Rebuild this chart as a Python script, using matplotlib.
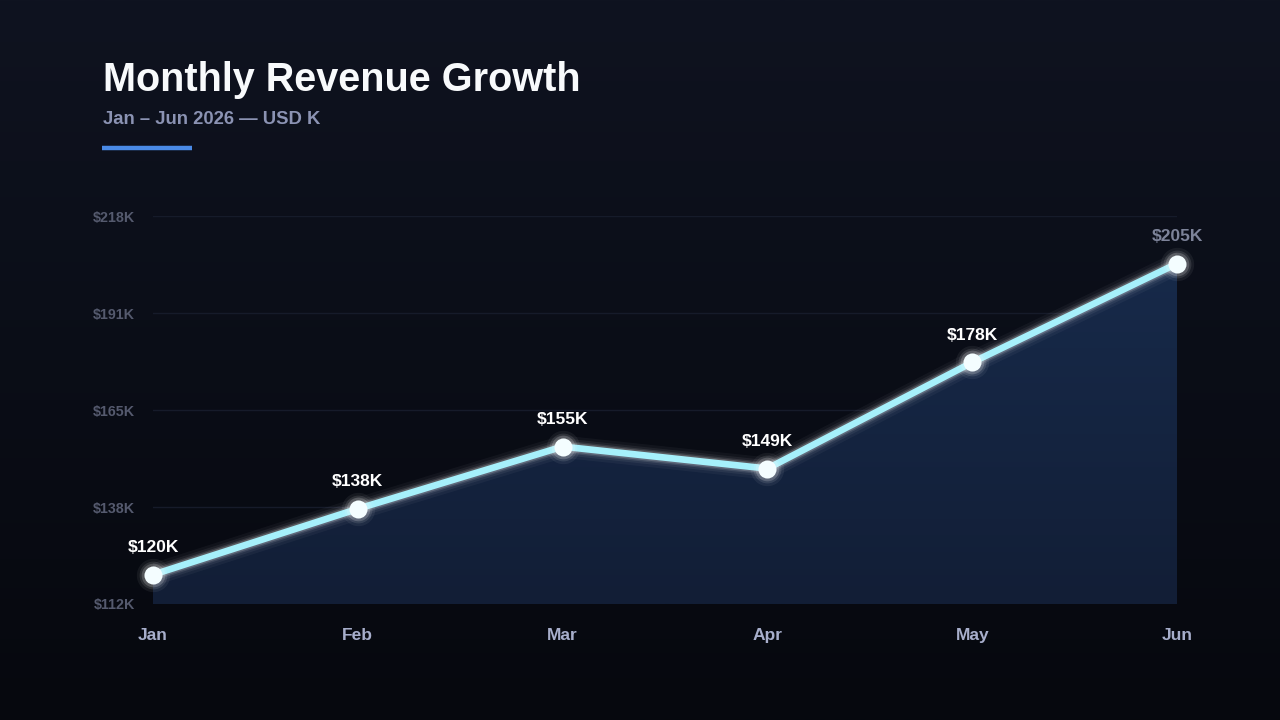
import numpy as np
import matplotlib.pyplot as plt
from matplotlib.colors import LinearSegmentedColormap

months = ["Jan", "Feb", "Mar", "Apr", "May", "Jun"]
revenue = [120, 138, 155, 149, 178, 205]
value_labels = ["$120K", "$138K", "$155K", "$149K", "$178K", "$205K"]
y_ticks = [112, 138.5, 165, 191.5, 218]
y_tick_labels = ["$112K", "$138K", "$165K", "$191K", "$218K"]

plt.rcParams['font.family'] = ['Liberation Sans', 'DejaVu Sans']
plt.rcParams['font.weight'] = 'bold'

fig = plt.figure(figsize=(12.8, 7.2), dpi=100)

# background gradient
bg = fig.add_axes([0, 0, 1, 1], zorder=-10)
bg_cmap = LinearSegmentedColormap.from_list("bg", ["#06080e", "#0f1320"])
bg.imshow(np.linspace(0, 1, 256).reshape(-1, 1), aspect="auto", cmap=bg_cmap,
          origin="lower", extent=[0, 1, 0, 1])
bg.set_axis_off()

# title block
fig.text(103 / 1280, 1 - 80 / 720, "Monthly Revenue Growth", color="#f8fafc",
         fontsize=28.5, fontweight="bold", va="center", ha="left")
fig.text(103 / 1280, 1 - 120 / 720, "Jan – Jun 2026 — USD K", color="#8b93b3",
         fontsize=13.3, fontweight="bold", va="center", ha="left")
fig.add_artist(plt.Line2D([102 / 1280, 192 / 1280], [1 - 148 / 720, 1 - 148 / 720],
                          color="#4a8ae6", linewidth=3.2, solid_capstyle="butt"))

ax = fig.add_axes([153 / 1280, 1 - 604 / 720, 1024 / 1280, 388 / 720])
ax.patch.set_alpha(0)
x = np.arange(len(months))

# grid
for yt in y_ticks:
    ax.axhline(yt, color="#161b2a", linewidth=1, zorder=0)

# area fill with gradient
fill = ax.fill_between(x, revenue, y_ticks[0], color="none", zorder=1)
fill_cmap = LinearSegmentedColormap.from_list("fill", ["#121e36", "#172a4a"])
img = ax.imshow(np.linspace(0, 1, 256).reshape(-1, 1), aspect="auto", cmap=fill_cmap,
                origin="lower", extent=[0, len(months) - 1, y_ticks[0], max(revenue)],
                zorder=1)
img.set_clip_path(fill.get_paths()[0], transform=ax.transData)
ax.set_xlim(0, len(months) - 1)
ax.set_ylim(y_ticks[0], y_ticks[-1])

# glowing line
for lw, a in [(16, 0.04), (12, 0.06), (9, 0.1), (7, 0.18)]:
    ax.plot(x, revenue, color="#ffffff", linewidth=lw, alpha=a, zorder=2,
            solid_capstyle="round", solid_joinstyle="round")
ax.plot(x, revenue, color="#a6f0fb", linewidth=4.8, zorder=3,
        solid_capstyle="round", solid_joinstyle="round")

# glowing markers
for ms, a in [(24, 0.06), (20, 0.1), (17, 0.18)]:
    ax.plot(x, revenue, "o", color="#ffffff", markersize=ms, alpha=a,
            markeredgewidth=0, zorder=4, clip_on=False)
ax.plot(x, revenue, "o", color="#f4fdff", markersize=13, markeredgewidth=0,
        zorder=5, clip_on=False)

# value labels
for i, (v, lab) in enumerate(zip(revenue, value_labels)):
    col = "#7d8399" if i == len(revenue) - 1 else "#ffffff"
    ax.annotate(lab, (i, v), xytext=(0, 14), textcoords="offset points",
                ha="center", va="bottom", color=col, fontsize=12.5,
                fontweight="bold", zorder=6, annotation_clip=False)

ax.set_xticks(x)
ax.set_xticklabels(months, color="#a7aecb", fontsize=12.5, fontweight="bold")
ax.set_yticks(y_ticks)
ax.set_yticklabels(y_tick_labels, color="#555a6e", fontsize=10.3, fontweight="bold")
ax.tick_params(axis="x", length=0, pad=17)
ax.tick_params(axis="y", length=0, pad=13)
for s in ax.spines.values():
    s.set_visible(False)

fig.savefig("out.png", dpi=100)
